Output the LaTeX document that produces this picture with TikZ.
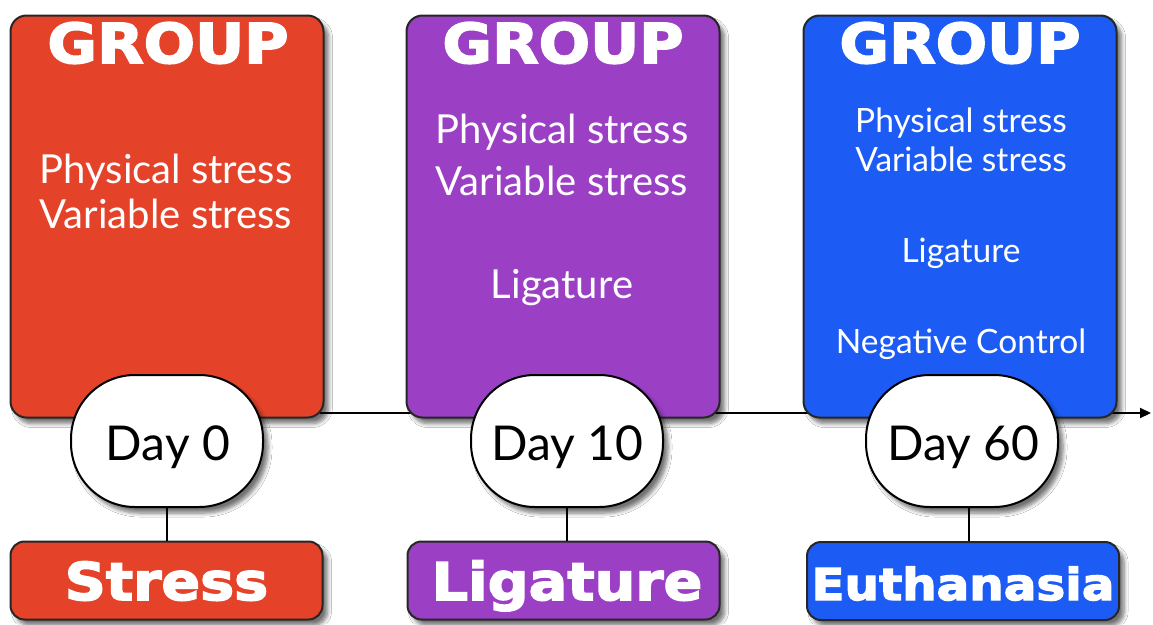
\documentclass[tikz,border=0pt]{standalone}
\usepackage{fontspec}
\setmainfont{Lato}
\newfontfamily\heavyfam{DejaVu Sans}[BoldFeatures={FakeBold=3, FakeStretch=1.1}]
\newcommand{\heavy}{\heavyfam\bfseries}
\usetikzlibrary{arrows.meta,shadows.blur}
\definecolor{cred}{RGB}{228,67,42}
\definecolor{cpur}{RGB}{155,64,196}
\definecolor{cblu}{RGB}{28,92,245}
\begin{document}
\begin{tikzpicture}[x=1pt,y=-1pt,
  shad/.style={blur shadow={shadow xshift=5pt, shadow yshift=-6pt, shadow opacity=55, shadow blur steps=6, shadow blur radius=4pt}},
  bigbox/.style={shad, draw=black!85, line width=2pt, rounded corners=16pt, minimum width=313pt, minimum height=402pt, inner sep=0pt},
  lblbox/.style={shad, draw=black!85, line width=2pt, rounded corners=14pt, minimum width=312pt, minimum height=78pt, inner sep=0pt},
  dayshape/.style={shad, draw=black, fill=white, line width=2pt, rounded corners=64pt, minimum width=192pt, minimum height=132pt, inner sep=0pt},
  grptxt/.style={text=white, font=\heavy\fontsize{55}{55}\selectfont, inner sep=0pt, anchor=base},
  lbltxt/.style={text=white, inner sep=0pt, anchor=base},
  bt/.style={text=white, font=\fontsize{40}{40}\selectfont, inner sep=0pt, anchor=base},
  bts/.style={text=white, font=\fontsize{33.5}{33.5}\selectfont, inner sep=0pt, anchor=base},
  daytxt/.style={text=black, font=\fontsize{48}{48}\selectfont, inner sep=0pt, anchor=base},
  conn/.style={line width=2pt, draw=black}]
\fill[white] (0,0) rectangle (1153,624);
\useasboundingbox (0,0) rectangle (1153,624);
% timeline
\coordinate (tstart) at (320,413);
\coordinate (tend) at (1151,413);
\draw[conn, -{Triangle[length=11pt,width=10pt]}] (tstart) -- (tend);
% group boxes
\node[bigbox, fill=cred] (b1) at (167,216.5) {};
\node[bigbox, fill=cpur] (b2) at (563,216.5) {};
\node[bigbox, fill=cblu] (b3) at (960,216.5) {};
\node[grptxt] (g1) at (168,63) {GROUP};
\node[grptxt] (g2) at (563,63) {GROUP};
\node[grptxt] (g3) at (960,63) {GROUP};
% texts box 1
\node[bt] (t11) at (166,183) {Physical stress};
\node[bt] (t12) at (166,228) {Variable stress};
% texts box 2
\node[bt] (t21) at (562,143) {Physical stress};
\node[bt] (t22) at (562,195) {Variable stress};
\node[bt] (t23) at (562,298) {Ligature};
% texts box 3
\node[bts] (t31) at (961,132) {Physical stress};
\node[bts] (t32) at (961,171) {Variable stress};
\node[bts] (t33) at (961,262) {Ligature};
\node[bts] (t34) at (961,353) {Negative Control};
% label boxes
\node[lblbox, fill=cred] (l1) at (166.5,580.5) {};
\node[lblbox, fill=cpur] (l2) at (563.5,580.5) {};
\node[lblbox, fill=cblu] (l3) at (963,581) {};
\node[lbltxt, font=\heavy\fontsize{52}{52}\selectfont] (s1) at (166.5,600) {Stress};
\node[lbltxt, font=\heavy\fontsize{52}{52}\selectfont] (s2) at (567,600) {Ligature};
\node[lbltxt, font=\heavy\fontsize{44}{44}\selectfont] (s3) at (963,600) {Euthanasia};
% day shapes
\node[dayshape] (e1) at (167,441) {};
\node[dayshape] (e2) at (567,441) {};
\node[dayshape] (e3) at (962,441) {};
\node[daytxt] (d1) at (168,460) {Day 0};
\node[daytxt] (d2) at (567,460) {Day 10};
\node[daytxt] (d3) at (963,460) {Day 60};
% connectors
\draw[conn] (e1.south) -- (l1.north -| e1.south);
\draw[conn] (e2.south) -- (l2.north -| e2.south);
\draw[conn] ([xshift=7pt]e3.south) -- ([xshift=7pt]l3.north -| e3.south);
\end{tikzpicture}
\end{document}
